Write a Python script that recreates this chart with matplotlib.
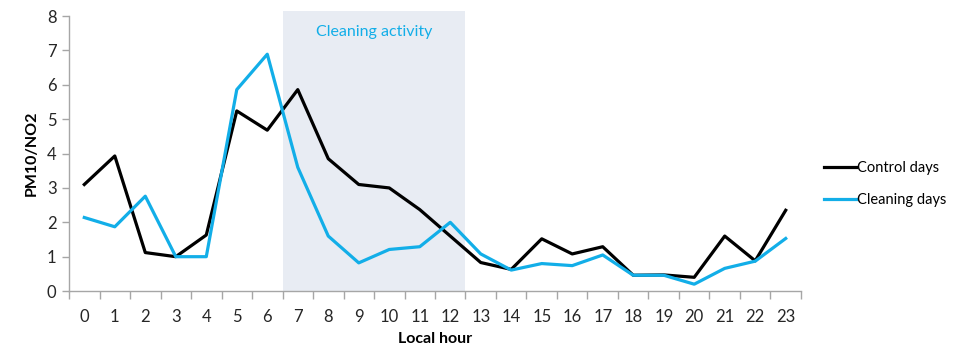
import numpy as np
import matplotlib.pyplot as plt

plt.rcParams['font.family'] = ['Lato', 'DejaVu Sans']

hours = list(range(24))
control = [3.10, 3.93, 1.12, 1.00, 1.63, 5.24, 4.68, 5.86, 3.85, 3.10, 3.00, 2.37,
           1.60, 0.83, 0.63, 1.52, 1.08, 1.29, 0.46, 0.47, 0.40, 1.60, 0.88, 2.35]
cleaning = [2.14, 1.87, 2.76, 1.00, 1.00, 5.86, 6.89, 3.60, 1.60, 0.82, 1.21, 1.29,
            2.00, 1.08, 0.61, 0.80, 0.74, 1.05, 0.46, 0.46, 0.20, 0.66, 0.87, 1.53]
cleaning_start, cleaning_end = 7, 12

blue = '#12AEE8'
grey = '#A6A6A6'

fig = plt.figure(figsize=(9.55, 3.49), dpi=100)
ax = fig.add_axes([0.0723, 0.166, 0.7664, 0.788])

# shaded band for the cleaning hours, drawn slightly above the top of the axis
ax.fill_between([cleaning_start - 0.5, cleaning_end + 0.5], 0, 8.15,
                color='#E8ECF3', lw=0, zorder=0, clip_on=False)
ax.text((cleaning_start + cleaning_end) / 2, 7.55, 'Cleaning activity',
        color=blue, ha='center', va='center', fontsize=11.5)

ax.plot(hours, control, color='black', lw=2.3, label='Control days', zorder=3)
ax.plot(hours, cleaning, color=blue, lw=2.3, label='Cleaning days', zorder=3)

ax.set_xlim(-0.5, 23.5)
ax.set_ylim(0, 8)
ax.set_xticks(hours)
ax.set_xticks(np.arange(-0.5, 24, 1), minor=True)
ax.tick_params(axis='x', which='major', length=0, pad=13, labelsize=12, labelcolor='#262626')
ax.tick_params(axis='x', which='minor', length=6, color=grey, width=1)
ax.set_yticks(range(9))
ax.tick_params(axis='y', length=5, color=grey, width=1, pad=4, labelsize=12, labelcolor='#262626')

for side in ('top', 'right'):
    ax.spines[side].set_visible(False)
for side in ('left', 'bottom'):
    ax.spines[side].set_color(grey)
    ax.spines[side].set_linewidth(1)

ax.set_xlabel('Local hour', fontweight='bold', fontsize=11.5, labelpad=5)
ax.set_ylabel('PM10/NO2', fontweight='bold', fontsize=11.5, labelpad=6)

ax.legend(loc='center left', bbox_to_anchor=(1.014, 0.39), frameon=False,
          fontsize=10.5, handlelength=2.2, handletextpad=0.05, labelspacing=1.25)

fig.savefig('out.png', dpi=100)
